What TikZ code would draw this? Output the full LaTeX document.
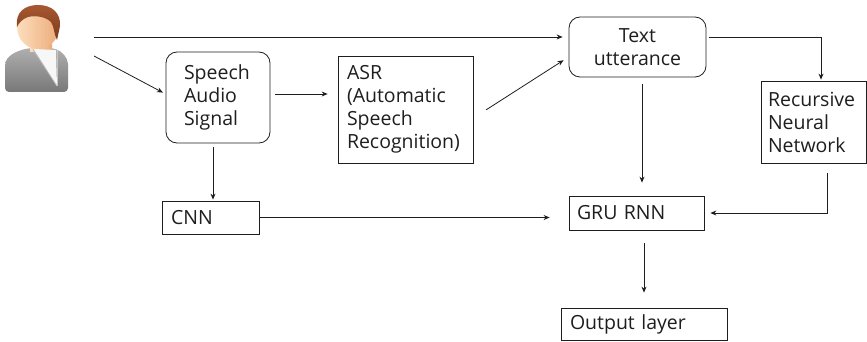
\documentclass[tikz,border=0pt]{standalone}
\usepackage{fontspec}
\setmainfont{Open Sans}
\usetikzlibrary{arrows.meta,calc}
\definecolor{skin}{RGB}{236,170,120}
\definecolor{skinlight}{RGB}{252,222,190}
\definecolor{hair}{RGB}{168,88,48}
\definecolor{hairdark}{RGB}{120,58,28}
\definecolor{suit}{RGB}{120,120,120}
\definecolor{suitlight}{RGB}{175,175,175}
\definecolor{ink}{RGB}{30,30,30}
\tikzset{
  box/.style={draw=ink, line width=0.8pt, inner ysep=0pt, align=left,
    font=\fontsize{19.5}{23}\selectfont, text=ink},
  roundbox/.style={box, rounded corners=11pt},
  arr/.style={draw=ink, line width=0.8pt, -{Stealth[length=6pt,width=5pt]}},
}
\begin{document}
\begin{tikzpicture}[x=1pt,y=-1pt]
\useasboundingbox (0,0) rectangle (867,342);

% user icon
\begin{scope}
  \shade[top color=suitlight, bottom color=suit, rounded corners=4pt]
    (5,92) -- (5,68) .. controls (6,56) and (16,51) .. (30,48) -- (52,48)
    .. controls (62,51) and (68,58) .. (68,68) -- (68,92) -- cycle;
  \shade[left color=skinlight, right color=skin] (30,38) rectangle (52,52);
  \fill[gray!6] (33,49) -- (56,50) -- (57,86) -- cycle;
  \draw[gray!50, line width=0.8pt] (33,49) -- (57,86);
  \draw[gray!45, line width=0.8pt] (57,50) -- (57,86);
  \shade[left color=skinlight, right color=skin] (38,27) ellipse [x radius=21, y radius=22];
  \shade[top color=hair, bottom color=hairdark]
    (17,27) .. controls (15,12) and (25,5) .. (38,5)
    .. controls (52,5) and (61,13) .. (60,26) -- (57,40)
    .. controls (54,34) and (54,26) .. (51,22)
    .. controls (46,17) and (36,15) .. (28,17)
    .. controls (22,19) and (19,23) .. (17,27) -- cycle;
\end{scope}
\node[inner sep=0pt, minimum size=10pt] (user) at (37,50) {};
\coordinate (u1) at (94,37);
\coordinate (u2) at (94,56);

% blocks
\node[roundbox, text width=68pt, inner xsep=18pt, minimum height=91pt] (speech) at (218,97.5)
  {Speech\\Audio\\Signal};
\node[box, text width=117pt, inner xsep=9pt, minimum height=107pt] (asr) at (405.5,109.5)
  {ASR\\(Automatic\\Speech\\Recognition)};
\node[roundbox, align=center, text width=125pt, inner xsep=6pt, minimum height=60pt] (text) at (637.5,47)
  {Text\\utterance};
\node[box, text width=91pt, inner xsep=7pt, minimum height=82pt] (rec) at (813.5,122)
  {Recursive\\Neural\\Network};
\node[box, text width=79pt, inner xsep=9pt, minimum height=33pt] (cnn) at (210.5,217.5) {CNN};
\node[box, text width=119pt, inner xsep=8pt, minimum height=34pt] (gru) at (636.5,213) {GRU RNN};
\node[box, text width=148pt, inner xsep=9pt, minimum height=32pt] (out) at (644,324) {Output layer};

% connectors
\draw[arr, shorten >=6pt] (u1) -- (u1 -| text.west);
\draw[arr, shorten >=3pt] (u2) -- ([yshift=3.5pt]speech.west);
\draw[arr, shorten <=5pt, shorten >=10pt] ([yshift=3.5pt]speech.east) -- ([yshift=3.5pt]speech.east -| asr.west);
\draw[arr, shorten <=15pt, shorten >=6pt] ([yshift=-8.5pt]asr.east) -- ([yshift=-10pt]text.west);
\draw[arr, shorten <=3pt, shorten >=1pt] ([yshift=10pt]text.east) -| ([xshift=7.5pt]rec.north);
\draw[arr, shorten <=7pt, shorten >=13pt] ([xshift=4.5pt]text.south) -- ([xshift=4.5pt]text.south |- gru.north);
\draw[arr, shorten <=10pt, shorten >=6pt] ([xshift=13.5pt]rec.south) |- (gru.east);
\draw[arr, shorten >=19pt] (cnn.east) -- (cnn.east -| gru.west);
\draw[arr, shorten <=4pt, shorten >=1pt] ([xshift=-5pt]speech.south) -- ([xshift=-5pt]speech.south |- cnn.north);
\draw[arr, shorten <=13pt, shorten >=15pt] (out.north |- gru.south) -- (out.north);
\end{tikzpicture}
\end{document}
